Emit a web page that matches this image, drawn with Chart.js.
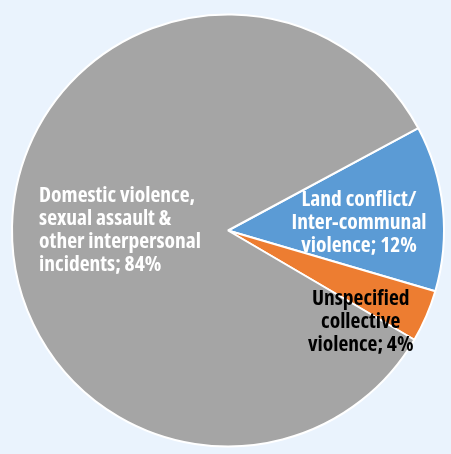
<!DOCTYPE html>
<html>
<head>
<meta charset="utf-8">
<script src="https://cdn.jsdelivr.net/npm/chart.js@4"></script>
<style>
  html, body { margin: 0; padding: 0; background: #eaf3fd; }
  #wrap { width: 451px; height: 454px; }
</style>
</head>
<body>
<div id="wrap"><canvas id="pieChart"></canvas></div>
<script>
const categories = [
  "Land conflict/ Inter-communal violence",
  "Unspecified collective violence",
  "Domestic violence, sexual assault & other interpersonal incidents"
];
const shares = [12.4, 3.9, 83.7];
const labelLines = [
  ["Land conflict/", "Inter-communal", "violence; 12%"],
  ["Unspecified", "collective", "violence; 4%"],
  ["Domestic violence,", "sexual assault &", "other interpersonal", "incidents; 84%"]
];
const sliceColors = ["#5b9bd5", "#ed7d31", "#a5a5a5"];
const labelColors = ["#ffffff", "#000000", "#ffffff"];

// where each label sits: fraction of radius along mid angle, nudge, alignment
const labelPlace = [
  { r: 0.61, dx: 0, dy: 6, align: "center" },
  { r: 0.74, dx: -14, dy: 28, align: "center" },
  { r: 0.5, dx: 0, dy: 2, align: "left" }
];

const sliceLabels = {
  id: "sliceLabels",
  afterDatasetsDraw(chart) {
    const ctx = chart.ctx;
    const meta = chart.getDatasetMeta(0);
    ctx.save();
    ctx.font = "bold condensed 21.5px 'Open Sans', 'DejaVu Sans Condensed', sans-serif";
    ctx.textBaseline = "middle";
    const lineH = 23;
    meta.data.forEach((arc, i) => {
      const p = arc.getProps(["x", "y", "startAngle", "endAngle", "outerRadius"], true);
      const mid = (p.startAngle + p.endAngle) / 2;
      const place = labelPlace[i];
      const cx = p.x + Math.cos(mid) * p.outerRadius * place.r + place.dx;
      const cy = p.y + Math.sin(mid) * p.outerRadius * place.r + place.dy;
      const lines = labelLines[i];
      const maxW = Math.max(...lines.map((l) => ctx.measureText(l).width));
      const top = cy - (lines.length - 1) * lineH / 2;
      ctx.fillStyle = labelColors[i];
      lines.forEach((line, k) => {
        if (place.align === "left") {
          ctx.textAlign = "left";
          ctx.fillText(line, cx - maxW / 2, top + k * lineH);
        } else {
          ctx.textAlign = "center";
          ctx.fillText(line, cx, top + k * lineH);
        }
      });
    });
    ctx.restore();
  }
};

new Chart(document.getElementById("pieChart"), {
  type: "pie",
  data: {
    labels: categories,
    datasets: [{
      data: shares,
      backgroundColor: sliceColors,
      borderColor: "#ffffff",
      borderWidth: 2
    }]
  },
  options: {
    responsive: true,
    maintainAspectRatio: false,
    animation: false,
    rotation: 61.7,
    layout: { padding: { left: 11, right: 6, top: 13, bottom: 6 } },
    plugins: {
      legend: { display: false },
      tooltip: { enabled: false }
    }
  },
  plugins: [sliceLabels]
});
</script>
</body>
</html>
